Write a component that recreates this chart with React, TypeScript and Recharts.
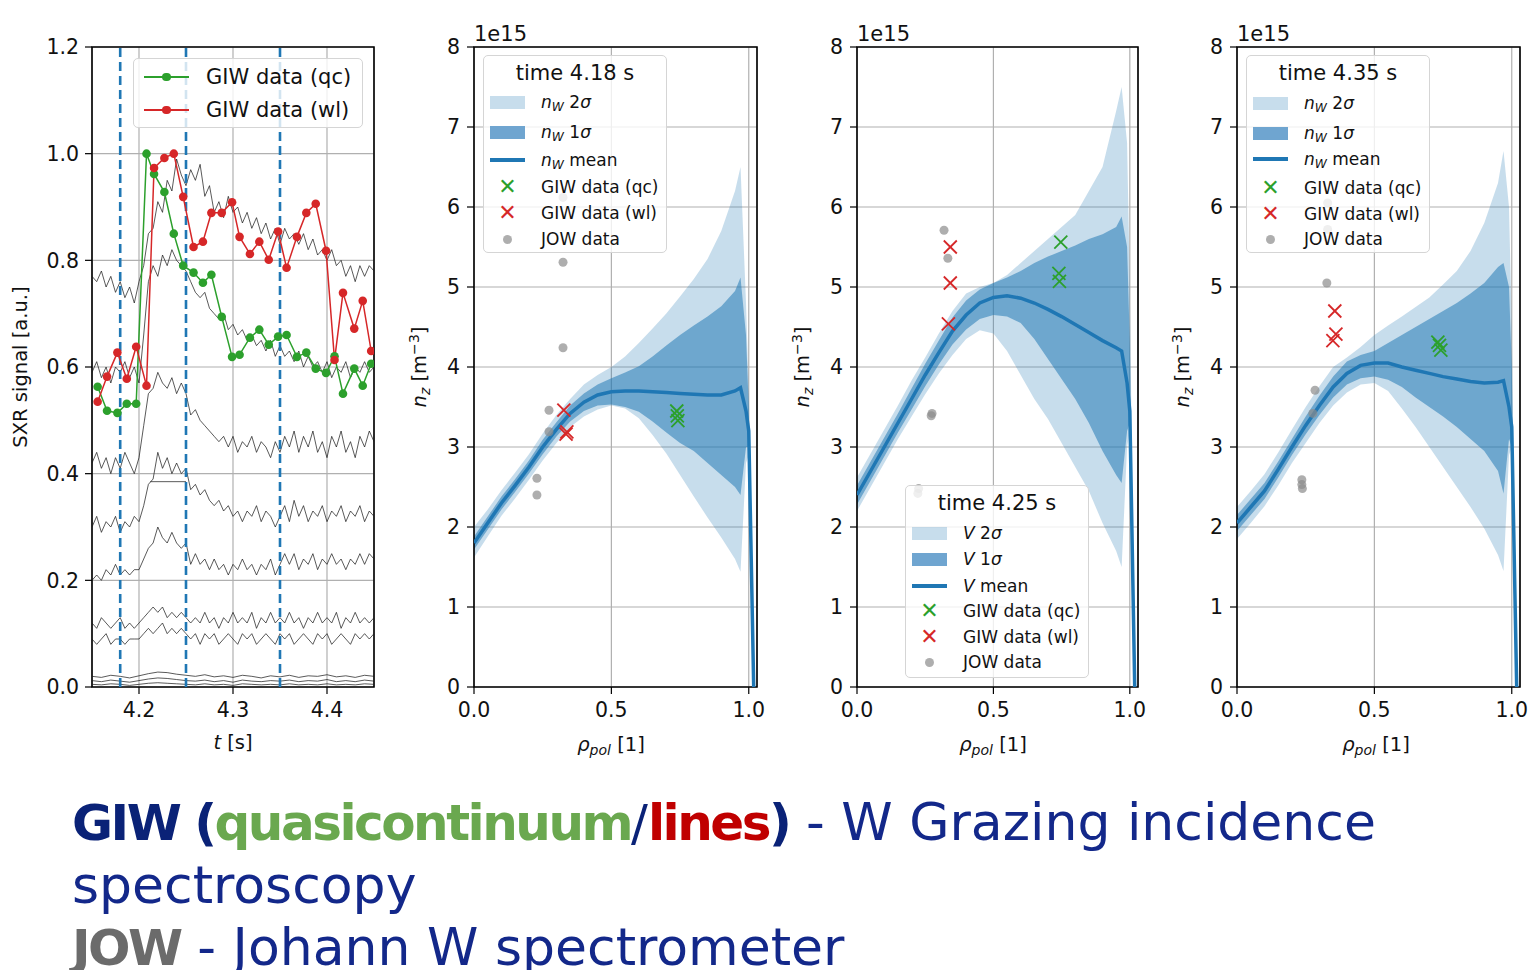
import React from 'react';
import {
  ComposedChart, Line, Area, Scatter, XAxis, YAxis, CartesianGrid,
  ReferenceLine, ReferenceArea,
} from 'recharts';

// ---------- panel 1: SXR traces ----------
const tFine = [
  4.15, 4.155, 4.16, 4.165, 4.17, 4.175, 4.18, 4.185, 4.19, 4.195,
  4.2, 4.205, 4.21, 4.215, 4.22, 4.225, 4.23, 4.235, 4.24, 4.245,
  4.25, 4.255, 4.26, 4.265, 4.27, 4.275, 4.28, 4.285, 4.29, 4.295,
  4.3, 4.305, 4.31, 4.315, 4.32, 4.325, 4.33, 4.335, 4.34, 4.345,
  4.35, 4.355, 4.36, 4.365, 4.37, 4.375, 4.38, 4.385, 4.39, 4.395,
  4.4, 4.405, 4.41, 4.415, 4.42, 4.425, 4.43, 4.435, 4.44, 4.445,
  4.45,
];
const tCoarse = [
  4.15, 4.16, 4.17, 4.18, 4.19, 4.2, 4.21, 4.22, 4.23, 4.24,
  4.25, 4.26, 4.27, 4.28, 4.29, 4.3, 4.31, 4.32, 4.33, 4.34,
  4.35, 4.36, 4.37, 4.38, 4.39, 4.4, 4.41, 4.42, 4.43, 4.44,
  4.45,
];

const sxrA = [
  0.77, 0.76, 0.78, 0.75, 0.77, 0.74, 0.76, 0.73, 0.75, 0.72,
  0.76, 0.79, 0.85, 0.86, 0.91, 0.89, 0.95, 0.93, 0.99, 0.96,
  0.94, 0.97, 0.95, 0.98, 0.92, 0.94, 0.89, 0.91, 0.88, 0.92,
  0.89, 0.90, 0.87, 0.89, 0.86, 0.88, 0.85, 0.87, 0.84, 0.86,
  0.83, 0.86, 0.84, 0.85, 0.83, 0.85, 0.82, 0.84, 0.81, 0.82,
  0.80, 0.82, 0.79, 0.80, 0.77, 0.79, 0.76, 0.79, 0.77, 0.79,
  0.78,
];
const sxrB = [
  0.59, 0.61, 0.58, 0.60, 0.57, 0.60, 0.59, 0.61, 0.58, 0.60,
  0.57, 0.66, 0.76, 0.79, 0.77, 0.81, 0.79, 0.82, 0.80, 0.79,
  0.78, 0.76, 0.74, 0.73, 0.74, 0.71, 0.70, 0.69, 0.70, 0.67,
  0.68, 0.66, 0.67, 0.65, 0.66, 0.64, 0.65, 0.63, 0.65, 0.62,
  0.64, 0.62, 0.63, 0.61, 0.63, 0.60, 0.62, 0.60, 0.61, 0.59,
  0.61, 0.58, 0.60, 0.59, 0.61, 0.58, 0.60, 0.59, 0.61, 0.59,
  0.60,
];
const sxrC = [
  0.42, 0.44, 0.41, 0.43, 0.40, 0.43, 0.41, 0.44, 0.42, 0.40,
  0.43, 0.49, 0.55, 0.56, 0.59, 0.57, 0.56, 0.58, 0.55, 0.57,
  0.55, 0.51, 0.52, 0.50, 0.49, 0.48, 0.47, 0.46, 0.47, 0.45,
  0.47, 0.44, 0.46, 0.45, 0.47, 0.44, 0.46, 0.45, 0.43, 0.46,
  0.44, 0.47, 0.45, 0.48, 0.44, 0.47, 0.45, 0.48, 0.44, 0.46,
  0.43, 0.47, 0.45, 0.48, 0.44, 0.46, 0.43, 0.47, 0.45, 0.48,
  0.46,
];
const sxrD = [
  0.30, 0.32, 0.29, 0.31, 0.30, 0.32, 0.29, 0.31, 0.30, 0.32,
  0.31, 0.34, 0.38, 0.39, 0.44, 0.41, 0.43, 0.40, 0.42, 0.40,
  0.41, 0.37, 0.38, 0.36, 0.37, 0.35, 0.34, 0.35, 0.33, 0.34,
  0.32, 0.33, 0.31, 0.33, 0.32, 0.34, 0.31, 0.33, 0.32, 0.30,
  0.32, 0.34, 0.31, 0.35, 0.32, 0.34, 0.31, 0.33, 0.32, 0.34,
  0.31, 0.33, 0.32, 0.34, 0.31, 0.33, 0.32, 0.34, 0.31, 0.33,
  0.32,
];
const sxrE = [
  0.20, 0.21, 0.20, 0.22, 0.21, 0.23, 0.21, 0.22, 0.21, 0.22,
  0.22, 0.24, 0.26, 0.27, 0.30, 0.28, 0.27, 0.29, 0.27, 0.26,
  0.27, 0.23, 0.25, 0.23, 0.24, 0.22, 0.24, 0.22, 0.23, 0.21,
  0.23, 0.22, 0.24, 0.22, 0.23, 0.21, 0.23, 0.22, 0.24, 0.21,
  0.23, 0.25, 0.23, 0.25, 0.22, 0.24, 0.23, 0.25, 0.22, 0.24,
  0.23, 0.25, 0.23, 0.24, 0.22, 0.24, 0.23, 0.25, 0.23, 0.25,
  0.24,
];
const sxrF = [
  0.12, 0.11, 0.13, 0.12, 0.11, 0.12, 0.13, 0.11, 0.12, 0.11,
  0.12, 0.13, 0.14, 0.15, 0.14, 0.15, 0.13, 0.14, 0.13, 0.14,
  0.13, 0.12, 0.13, 0.12, 0.14, 0.12, 0.13, 0.11, 0.13, 0.12,
  0.14, 0.12, 0.13, 0.12, 0.14, 0.11, 0.13, 0.12, 0.14, 0.12,
  0.13, 0.12, 0.14, 0.12, 0.13, 0.11, 0.13, 0.12, 0.14, 0.12,
  0.13, 0.12, 0.14, 0.11, 0.13, 0.12, 0.14, 0.12, 0.13, 0.12,
  0.13,
];
const sxrG = [
  0.09, 0.08, 0.09, 0.10, 0.08, 0.09, 0.09, 0.08, 0.09, 0.09,
  0.09, 0.10, 0.11, 0.10, 0.11, 0.12, 0.10, 0.11, 0.10, 0.11,
  0.10, 0.09, 0.10, 0.08, 0.10, 0.09, 0.10, 0.08, 0.09, 0.10,
  0.09, 0.08, 0.10, 0.09, 0.10, 0.08, 0.09, 0.10, 0.09, 0.08,
  0.10, 0.09, 0.10, 0.08, 0.09, 0.10, 0.09, 0.08, 0.10, 0.09,
  0.10, 0.08, 0.09, 0.10, 0.09, 0.08, 0.10, 0.09, 0.10, 0.09,
  0.10,
];
const sxrH = [0.02, 0.018, 0.022, 0.02, 0.017, 0.021, 0.025, 0.028, 0.027, 0.024, 0.022, 0.02, 0.023, 0.019, 0.021, 0.018, 0.022, 0.02, 0.017, 0.021, 0.019, 0.022, 0.018, 0.021, 0.02, 0.023, 0.019, 0.021, 0.018, 0.022, 0.02];
const sxrI = [0.012, 0.01, 0.013, 0.011, 0.009, 0.012, 0.015, 0.017, 0.016, 0.014, 0.012, 0.011, 0.013, 0.01, 0.012, 0.009, 0.013, 0.011, 0.01, 0.012, 0.011, 0.013, 0.01, 0.012, 0.011, 0.014, 0.01, 0.012, 0.01, 0.013, 0.011];
const sxrJ = [0.005, 0.004, 0.006, 0.005, 0.003, 0.005, 0.007, 0.008, 0.007, 0.006, 0.005, 0.004, 0.006, 0.004, 0.005, 0.003, 0.006, 0.005, 0.004, 0.005, 0.004, 0.006, 0.004, 0.005, 0.004, 0.006, 0.004, 0.005, 0.004, 0.006, 0.005];
const plateauT = [4.212, 4.25];
const plateauV = [0.385, 0.385];

const giwT = [
  4.156, 4.166, 4.177, 4.187, 4.197, 4.208, 4.216, 4.227, 4.237, 4.247,
  4.258, 4.268, 4.277, 4.288, 4.299, 4.307, 4.318, 4.328, 4.338, 4.348,
  4.357, 4.368, 4.378, 4.388, 4.399, 4.408, 4.417, 4.429, 4.438, 4.447,
];
const giwQc = [
  0.563, 0.518, 0.514, 0.531, 0.531, 1.0, 0.962, 0.928, 0.85, 0.79,
  0.777, 0.758, 0.773, 0.694, 0.619, 0.623, 0.655, 0.67, 0.642, 0.657,
  0.66, 0.619, 0.627, 0.597, 0.589, 0.62, 0.55, 0.597, 0.565, 0.606,
];
const giwWl = [
  0.535, 0.582, 0.627, 0.578, 0.638, 0.565, 0.973, 0.992, 1.0, 0.919,
  0.825, 0.835, 0.889, 0.889, 0.909, 0.844, 0.812, 0.835, 0.801, 0.854,
  0.786, 0.844, 0.889, 0.906, 0.818, 0.613, 0.739, 0.672, 0.724, 0.63,
];
const markTimes = [4.18, 4.25, 4.35];
const sxrTicksY = [0, 0.2, 0.4, 0.6, 0.8, 1.0, 1.2];
const sxrTicksX = [4.2, 4.3, 4.4];

// ---------- panels 2-4: n_W profiles (units of 1e15 m^-3) ----------
const rho = [0, 0.05, 0.1, 0.15, 0.2, 0.25, 0.3, 0.35, 0.4, 0.45, 0.5, 0.55, 0.6, 0.65, 0.7, 0.75, 0.8, 0.85, 0.9, 0.95, 0.97, 0.99, 1.0, 1.018];

const mean418 = [1.8, 2.05, 2.3, 2.52, 2.75, 3.0, 3.22, 3.42, 3.56, 3.65, 3.69, 3.7, 3.7, 3.69, 3.68, 3.67, 3.66, 3.65, 3.65, 3.7, 3.74, 3.45, 3.2, 0];
const lo1_418 = [1.72, 1.97, 2.22, 2.44, 2.67, 2.91, 3.13, 3.32, 3.45, 3.52, 3.53, 3.5, 3.44, 3.32, 3.18, 3.05, 2.95, 2.8, 2.65, 2.5, 2.4, 3.0, 3.0, 0];
const hi1_418 = [1.88, 2.13, 2.38, 2.6, 2.83, 3.09, 3.31, 3.52, 3.67, 3.78, 3.86, 3.93, 4.01, 4.13, 4.27, 4.4, 4.52, 4.63, 4.76, 4.95, 5.12, 4.4, 3.5, 0];
const lo2_418 = [1.62, 1.88, 2.14, 2.36, 2.59, 2.83, 3.05, 3.25, 3.38, 3.47, 3.52, 3.48, 3.36, 3.15, 2.92, 2.65, 2.38, 2.12, 1.87, 1.6, 1.44, 2.8, 2.9, 0];
const hi2_418 = [2.0, 2.22, 2.46, 2.68, 2.91, 3.17, 3.4, 3.6, 3.78, 3.9, 4.0, 4.13, 4.3, 4.48, 4.67, 4.88, 5.1, 5.35, 5.7, 6.2, 6.5, 4.8, 3.7, 0];
const qc418 = { x: [0.738, 0.74, 0.742], y: [3.45, 3.39, 3.33] };
const wl418 = { x: [0.327, 0.338, 0.335], y: [3.46, 3.19, 3.16] };
const jow418 = { x: [0.324, 0.324, 0.324, 0.273, 0.273, 0.229, 0.229], y: [6.12, 5.31, 4.24, 3.46, 3.19, 2.61, 2.4] };

const mean425 = [2.4, 2.7, 3.0, 3.3, 3.6, 3.9, 4.18, 4.45, 4.65, 4.8, 4.87, 4.89, 4.86, 4.8, 4.72, 4.63, 4.53, 4.43, 4.33, 4.24, 4.2, 3.8, 3.45, 0];
const lo1_425 = [2.28, 2.58, 2.88, 3.18, 3.47, 3.76, 4.03, 4.28, 4.47, 4.6, 4.65, 4.63, 4.55, 4.35, 4.1, 3.85, 3.6, 3.3, 2.95, 2.65, 2.55, 3.2, 3.3, 0];
const hi1_425 = [2.52, 2.82, 3.12, 3.42, 3.73, 4.04, 4.33, 4.62, 4.83, 4.97, 5.05, 5.12, 5.2, 5.3, 5.38, 5.45, 5.52, 5.6, 5.66, 5.75, 5.88, 5.5, 4.3, 0];
const lo2_425 = [2.2, 2.5, 2.8, 3.1, 3.38, 3.66, 3.92, 4.15, 4.35, 4.46, 4.42, 4.2, 3.9, 3.6, 3.35, 3.05, 2.75, 2.45, 2.05, 1.7, 1.5, 3.0, 3.2, 0];
const hi2_425 = [2.62, 2.92, 3.22, 3.52, 3.83, 4.12, 4.42, 4.7, 4.92, 5.0, 5.05, 5.15, 5.3, 5.45, 5.6, 5.75, 5.9, 6.2, 6.5, 7.2, 7.5, 6.8, 5.0, 0];
const qc425 = { x: [0.747, 0.74, 0.742], y: [5.56, 5.17, 5.07] };
const wl425 = { x: [0.342, 0.342, 0.335], y: [5.5, 5.05, 4.54] };
const jow425 = { x: [0.319, 0.333, 0.275, 0.272, 0.223, 0.226], y: [5.71, 5.36, 3.42, 3.39, 2.42, 2.48] };

const mean435 = [2.05, 2.25, 2.45, 2.72, 3.0, 3.27, 3.52, 3.75, 3.92, 4.02, 4.05, 4.05, 4.0, 3.96, 3.92, 3.88, 3.85, 3.82, 3.8, 3.81, 3.83, 3.5, 3.25, 0];
const lo1_435 = [1.95, 2.15, 2.35, 2.62, 2.9, 3.16, 3.4, 3.62, 3.78, 3.86, 3.88, 3.84, 3.75, 3.62, 3.5, 3.38, 3.25, 3.1, 2.95, 2.7, 2.42, 3.1, 3.0, 0];
const hi1_435 = [2.15, 2.35, 2.55, 2.82, 3.1, 3.38, 3.64, 3.88, 4.07, 4.15, 4.2, 4.3, 4.4, 4.5, 4.6, 4.7, 4.8, 4.92, 5.05, 5.25, 5.3, 5.0, 4.0, 0];
const lo2_435 = [1.85, 2.05, 2.26, 2.52, 2.8, 3.05, 3.3, 3.52, 3.68, 3.78, 3.8, 3.7, 3.48, 3.25, 3.0, 2.75, 2.5, 2.25, 1.98, 1.65, 1.45, 2.9, 3.0, 0];
const hi2_435 = [2.25, 2.45, 2.66, 2.93, 3.22, 3.5, 3.76, 4.0, 4.12, 4.25, 4.4, 4.52, 4.63, 4.75, 4.87, 5.03, 5.2, 5.45, 5.8, 6.3, 6.7, 6.0, 4.5, 0];
const qc435 = { x: [0.731, 0.742, 0.737], y: [4.31, 4.21, 4.27] };
const wl435 = { x: [0.356, 0.36, 0.349], y: [4.7, 4.41, 4.33] };
const jow435 = { x: [0.33, 0.33, 0.327, 0.284, 0.276, 0.236, 0.236, 0.238], y: [6.05, 5.72, 5.05, 3.71, 3.42, 2.59, 2.53, 2.48] };

const nzTicksY = [0, 1, 2, 3, 4, 5, 6, 7, 8];
const rhoTicks = [0, 0.5, 1.0];

// ---------- styling ----------
const FONT = "'DejaVu Sans', sans-serif";
const C0 = '#1f77b4';
const GREEN = '#2ca02c';
const RED = '#d62728';
const GRID = '#b0b0b0';
const tickStyle = { fill: '#111', fontSize: 20.5, fontFamily: FONT };

const pts = (ts: number[], vs: number[]) => ts.map((t, i) => ({ t, v: vs[i] }));
const xy = (s: { x: number[]; y: number[] }) => s.x.map((x, i) => ({ x, y: s.y[i] }));

function XMark(props: any) {
  const { cx, cy, fill } = props;
  if (cx == null || cy == null) return null;
  const h = 6.5;
  return (
    <g stroke={fill} strokeWidth={1.8}>
      <line x1={cx - h} y1={cy - h} x2={cx + h} y2={cy + h} />
      <line x1={cx - h} y1={cy + h} x2={cx + h} y2={cy - h} />
    </g>
  );
}

function GreyDot(props: any) {
  const { cx, cy } = props;
  if (cx == null || cy == null) return null;
  return <circle cx={cx} cy={cy} r={4.5} fill="#8c8c8c" fillOpacity={0.7} />;
}

function SxrPanel() {
  const traces = [
    pts(tFine, sxrA), pts(tFine, sxrB), pts(tFine, sxrC), pts(tFine, sxrD),
    pts(tFine, sxrE), pts(tFine, sxrF), pts(tFine, sxrG),
    pts(tCoarse, sxrH), pts(tCoarse, sxrI), pts(tCoarse, sxrJ),
    pts(plateauT, plateauV),
  ];
  return (
    <div style={{ position: 'absolute', left: 0, top: 0 }}>
      <ComposedChart width={384} height={770} margin={{ top: 47, right: 10, bottom: 43, left: 0 }}>
        <CartesianGrid stroke={GRID} strokeWidth={1.2} />
        <XAxis dataKey="t" type="number" domain={[4.15, 4.45]} allowDataOverflow ticks={sxrTicksX}
          tickFormatter={(v: number) => v.toFixed(1)} height={40} axisLine={false}
          tickSize={7} tickMargin={8} tick={tickStyle} tickLine={{ stroke: '#000', strokeWidth: 1.2 }} />
        <YAxis type="number" domain={[0, 1.2]} allowDataOverflow ticks={sxrTicksY}
          tickFormatter={(v: number) => v.toFixed(1)} width={92} axisLine={false}
          tickSize={7} tickMargin={6} tick={tickStyle} tickLine={{ stroke: '#000', strokeWidth: 1.2 }} />
        {traces.map((d, i) => (
          <Line key={i} data={d} dataKey="v" type="linear" stroke="#1a1a1a" strokeOpacity={0.72}
            strokeWidth={1} dot={false} isAnimationActive={false} />
        ))}
        {markTimes.map((t) => (
          <ReferenceLine key={t} x={t} stroke={C0} strokeWidth={2.6} strokeDasharray="9 5" />
        ))}
        <Line data={pts(giwT, giwQc)} dataKey="v" type="linear" stroke={GREEN} strokeWidth={1.5}
          dot={{ r: 4.3, fill: GREEN, stroke: GREEN, strokeWidth: 0 }} isAnimationActive={false} />
        <Line data={pts(giwT, giwWl)} dataKey="v" type="linear" stroke={RED} strokeWidth={1.5}
          dot={{ r: 4.3, fill: RED, stroke: RED, strokeWidth: 0 }} isAnimationActive={false} />
        <ReferenceArea x1={4.15} x2={4.45} y1={0} y2={1.2} fill="none" stroke="#000" strokeWidth={1.6} />
      </ComposedChart>
    </div>
  );
}

type ProfileProps = {
  left: number; width: number;
  mean: number[]; lo1: number[]; hi1: number[]; lo2: number[]; hi2: number[];
  qc: { x: number[]; y: number[] }; wl: { x: number[]; y: number[] }; jow: { x: number[]; y: number[] };
};

function ProfilePanel({ left, width, mean, lo1, hi1, lo2, hi2, qc, wl, jow }: ProfileProps) {
  const rows = rho.map((x, i) => ({ x, m: mean[i], b1: [lo1[i], hi1[i]], b2: [lo2[i], hi2[i]] }));
  return (
    <div style={{ position: 'absolute', left, top: 0 }}>
      <ComposedChart width={width} height={770} data={rows} margin={{ top: 47, right: 10, bottom: 43, left: 0 }}>
        <CartesianGrid stroke={GRID} strokeWidth={1.2} />
        <XAxis dataKey="x" type="number" domain={[0, 1.03]} allowDataOverflow ticks={rhoTicks}
          tickFormatter={(v: number) => v.toFixed(1)} height={40} axisLine={false}
          tickSize={7} tickMargin={8} tick={tickStyle} tickLine={{ stroke: '#000', strokeWidth: 1.2 }} />
        <YAxis type="number" domain={[0, 8]} allowDataOverflow ticks={nzTicksY} width={90} axisLine={false}
          tickSize={7} tickMargin={7} tick={tickStyle} tickLine={{ stroke: '#000', strokeWidth: 1.2 }} />
        <Area dataKey="b2" type="linear" fill={C0} fillOpacity={0.25} stroke="none" isAnimationActive={false} />
        <Area dataKey="b1" type="linear" fill={C0} fillOpacity={0.53} stroke="none" isAnimationActive={false} />
        <Line dataKey="m" type="linear" stroke={C0} strokeWidth={3.5} dot={false} isAnimationActive={false} />
        <Scatter data={xy(jow)} dataKey="y" fill="#8c8c8c" shape={GreyDot} isAnimationActive={false} />
        <Scatter data={xy(qc)} dataKey="y" fill={GREEN} shape={XMark} isAnimationActive={false} />
        <Scatter data={xy(wl)} dataKey="y" fill={RED} shape={XMark} isAnimationActive={false} />
        <ReferenceArea x1={0} x2={1.03} y1={0} y2={8} fill="none" stroke="#000" strokeWidth={1.6} />
      </ComposedChart>
    </div>
  );
}

// ---------- html overlays: legends, axis labels ----------
const Sub = ({ children }: { children: React.ReactNode }) => (
  <span style={{ fontSize: '0.72em', position: 'relative', top: '0.28em' }}>{children}</span>
);

function ProfileLegend({ left, top, height, title, sym, rows }:
  { left: number; top: number; height: number; title: string; sym: 'nW' | 'V'; rows: number[] }) {
  const name = sym === 'nW' ? <><i>n</i><Sub><i>W</i></Sub></> : <i>V</i>;
  const entries: { key: string; icon: React.ReactNode; label: React.ReactNode }[] = [
    { key: '2s', icon: <div style={{ width: 35, height: 13, background: 'rgba(31,119,180,0.25)' }} />, label: <>{name} 2<i>σ</i></> },
    { key: '1s', icon: <div style={{ width: 35, height: 13, background: '#6fa5d0' }} />, label: <>{name} 1<i>σ</i></> },
    { key: 'm', icon: <div style={{ width: 35, height: 3.5, background: C0 }} />, label: <>{name} mean</> },
    { key: 'qc', icon: <span style={{ color: GREEN, fontSize: 22, lineHeight: '20px' }}>✕</span>, label: 'GIW data (qc)' },
    { key: 'wl', icon: <span style={{ color: RED, fontSize: 22, lineHeight: '20px' }}>✕</span>, label: 'GIW data (wl)' },
    { key: 'jow', icon: <div style={{ width: 9, height: 9, borderRadius: 5, background: 'rgba(140,140,140,0.7)' }} />, label: 'JOW data' },
  ];
  return (
    <div style={{
      position: 'absolute', left, top, width: 184, height, boxSizing: 'border-box',
      border: '1px solid #d5d5d5', borderRadius: 5, background: 'rgba(255,255,255,0.8)',
      fontFamily: FONT, color: '#111',
    }}>
      <div style={{ position: 'absolute', left: 0, top: 4, width: '100%', textAlign: 'center', fontSize: 21, lineHeight: '26px' }}>{title}</div>
      {entries.map((e, i) => (
        <div key={e.key} style={{ position: 'absolute', left: 0, top: rows[i] - 11, height: 22, width: '100%', display: 'flex', alignItems: 'center' }}>
          <div style={{ width: 35, marginLeft: 6, display: 'flex', justifyContent: 'center', alignItems: 'center' }}>{e.icon}</div>
          <div style={{ marginLeft: 16, fontSize: 17, whiteSpace: 'nowrap' }}>{e.label}</div>
        </div>
      ))}
    </div>
  );
}

function SxrLegend() {
  const rowsY = [18, 51];
  const items = [{ c: GREEN, t: 'GIW data (qc)' }, { c: RED, t: 'GIW data (wl)' }];
  return (
    <div style={{
      position: 'absolute', left: 133, top: 58, width: 230, height: 70, boxSizing: 'border-box',
      border: '1px solid #d5d5d5', borderRadius: 5, background: 'rgba(255,255,255,0.8)', fontFamily: FONT, color: '#111',
    }}>
      {items.map((it, i) => (
        <div key={it.t} style={{ position: 'absolute', left: 0, top: rowsY[i] - 13, height: 26, width: '100%', display: 'flex', alignItems: 'center' }}>
          <div style={{ position: 'relative', marginLeft: 10, width: 45, height: 2, background: it.c }}>
            <div style={{ position: 'absolute', left: 18, top: -3.3, width: 8.6, height: 8.6, borderRadius: 5, background: it.c }} />
          </div>
          <div style={{ marginLeft: 17, fontSize: 21, whiteSpace: 'nowrap' }}>{it.t}</div>
        </div>
      ))}
    </div>
  );
}

function RotLabel({ cx, cy, children }: { cx: number; cy: number; children: React.ReactNode }) {
  return (
    <div style={{
      position: 'absolute', left: cx - 150, top: cy - 13, width: 300, height: 26, lineHeight: '26px',
      textAlign: 'center', transform: 'rotate(-90deg)', fontFamily: FONT, fontSize: 19.5, color: '#111',
    }}>{children}</div>
  );
}

function XLabel({ cx, cy, children }: { cx: number; cy: number; children: React.ReactNode }) {
  return (
    <div style={{
      position: 'absolute', left: cx - 100, top: cy - 13, width: 200, height: 26, lineHeight: '26px',
      textAlign: 'center', fontFamily: FONT, fontSize: 19.5, color: '#111',
    }}>{children}</div>
  );
}

function Offset({ left }: { left: number }) {
  return (
    <div style={{ position: 'absolute', left, top: 22, fontFamily: FONT, fontSize: 21, lineHeight: '24px', color: '#111' }}>1e15</div>
  );
}

const nzLabel = <><i>n</i><Sub><i>z</i></Sub> [m<span style={{ fontSize: '0.72em', position: 'relative', top: '-0.5em' }}>−3</span>]</>;
const rhoLabel = <><i>ρ</i><Sub><i>pol</i></Sub> [1]</>;

const NAVY = '#13288a';
const BOLDNAVY = '#0a2277';

export default function App() {
  return (
    <div style={{ position: 'absolute', left: 0, top: 0, width: 1539, height: 970, background: '#fff', overflow: 'hidden' }}>
      <SxrPanel />
      <ProfilePanel left={384} width={383} mean={mean418} lo1={lo1_418} hi1={hi1_418} lo2={lo2_418} hi2={hi2_418} qc={qc418} wl={wl418} jow={jow418} />
      <ProfilePanel left={767} width={381} mean={mean425} lo1={lo1_425} hi1={hi1_425} lo2={lo2_425} hi2={hi2_425} qc={qc425} wl={wl425} jow={jow425} />
      <ProfilePanel left={1147} width={383} mean={mean435} lo1={lo1_435} hi1={hi1_435} lo2={lo2_435} hi2={hi2_435} qc={qc435} wl={wl435} jow={jow435} />

      <SxrLegend />
      <ProfileLegend left={483} top={55} height={198} title="time 4.18 s" sym="nW" rows={[46, 76, 104, 131, 157, 183]} />
      <ProfileLegend left={905} top={485} height={193} title="time 4.25 s" sym="V" rows={[47, 73, 100, 125, 151, 176]} />
      <ProfileLegend left={1246} top={55} height={198} title="time 4.35 s" sym="nW" rows={[47, 77, 103, 132, 158, 183]} />

      <Offset left={474} />
      <Offset left={857} />
      <Offset left={1237} />

      <RotLabel cx={21} cy={367}>SXR signal [a.u.]</RotLabel>
      <RotLabel cx={420} cy={367}>{nzLabel}</RotLabel>
      <RotLabel cx={803} cy={367}>{nzLabel}</RotLabel>
      <RotLabel cx={1183} cy={367}>{nzLabel}</RotLabel>

      <XLabel cx={233} cy={743}><i>t</i> [s]</XLabel>
      <XLabel cx={611} cy={745}>{rhoLabel}</XLabel>
      <XLabel cx={993} cy={745}>{rhoLabel}</XLabel>
      <XLabel cx={1376} cy={745}>{rhoLabel}</XLabel>

      <div style={{ position: 'absolute', left: 72, top: 791, width: 1460, fontFamily: FONT, fontSize: 52, lineHeight: '62px', color: NAVY, whiteSpace: 'nowrap' }}>
        <div>
          <span style={{ fontWeight: 'bold', fontSize: 50, letterSpacing: -2.5, color: BOLDNAVY }}>GIW (</span>
          <span style={{ fontWeight: 'bold', fontSize: 50, letterSpacing: -2.5, color: '#6aa84f' }}>quasicontinuum</span>
          <span style={{ fontSize: 50, color: BOLDNAVY }}>/</span>
          <span style={{ fontWeight: 'bold', fontSize: 50, letterSpacing: -2.5, color: '#c00000' }}>lines</span>
          <span style={{ fontWeight: 'bold', fontSize: 50, letterSpacing: -2.5, color: BOLDNAVY }}>)</span>
          <span> - W Grazing incidence</span>
        </div>
        <div>spectroscopy</div>
        <div>
          <span style={{ fontWeight: 'bold', fontSize: 50, letterSpacing: -2.5, color: '#6b6b6b' }}>JOW</span>
          <span> - Johann W spectrometer</span>
        </div>
      </div>
    </div>
  );
}
